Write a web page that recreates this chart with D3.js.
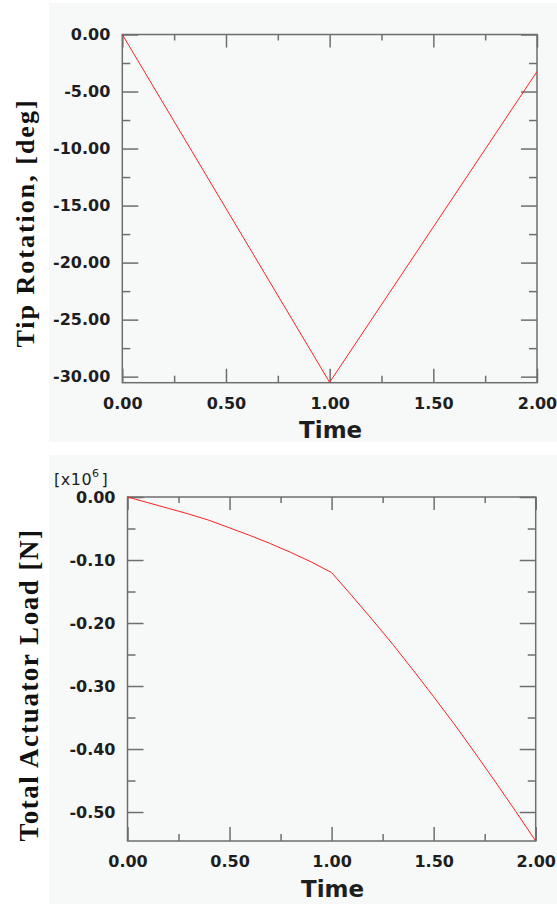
<!DOCTYPE html>
<html>
<head>
<meta charset="utf-8">
<script src="https://cdn.jsdelivr.net/npm/d3@7"></script>
<style>
  html, body { margin: 0; padding: 0; background: #ffffff; }
  svg { display: block; }
</style>
</head>
<body>
<svg id="chart" width="557" height="904"></svg>
<script>
// ---- data ----
const rotTime = [0, 1, 2];
const rotValues = [0, -30.5, -3.25];

const loadTime = [0, 0.1, 0.2, 0.3, 0.4, 0.5, 0.6, 0.7, 0.8, 0.9, 1.0,
                  1.1, 1.2, 1.3, 1.4, 1.5, 1.6, 1.7, 1.8, 1.9, 2.0];
const loadValues = [0, -0.009, -0.018, -0.027, -0.037, -0.049, -0.061, -0.074, -0.088, -0.103, -0.120,
                    -0.157, -0.195, -0.234, -0.275, -0.317, -0.360, -0.405, -0.451, -0.498, -0.546];

const timeTicks = [0, 0.5, 1, 1.5, 2];
const timeMinorTicks = [0.25, 0.75, 1.25, 1.75];
const rotTicks = [0, -5, -10, -15, -20, -25, -30];
const rotMinorTicks = [-2.5, -7.5, -12.5, -17.5, -22.5, -27.5];
const loadTicks = [0, -0.1, -0.2, -0.3, -0.4, -0.5];
const loadMinorTicks = [-0.05, -0.15, -0.25, -0.35, -0.45];

const rotTitle = "Tip Rotation, [deg]";
const loadTitle = "Total Actuator Load [N]";
const xTitle = "Time";

// ---- drawing ----
const svg = d3.select("#chart");
const fmt = d => d.toFixed(2).replace("-0.00", "0.00");
const axisColor = "#6e6e6e";
const tickFont = "DejaVu Sans, sans-serif";

function panel(cfg) {
  const g = svg.append("g");
  g.append("rect")
    .attr("x", cfg.bg[0]).attr("y", cfg.bg[1])
    .attr("width", cfg.bg[2]).attr("height", cfg.bg[3])
    .attr("fill", "#f7f9f9");

  const x = d3.scaleLinear().domain([0, 2]).range([cfg.left, cfg.right]);
  const y = d3.scaleLinear().domain(cfg.yDomain).range([cfg.bottom, cfg.top]);

  function styleAxis(sel, showText) {
    sel.select(".domain").remove();
    sel.selectAll(".tick line").attr("stroke", axisColor).attr("stroke-width", 1.5);
    sel.selectAll(".tick text")
      .attr("fill", "#1e1e1e")
      .style("font-family", tickFont)
      .style("font-weight", "bold")
      .style("font-size", "16px");
    if (!showText) sel.selectAll(".tick text").remove();
  }

  // Left axis
  g.append("g").attr("transform", `translate(${cfg.left},0)`)
    .call(d3.axisLeft(y).tickValues(cfg.yTicks).tickFormat(fmt).tickSize(-16).tickPadding(12))
    .call(s => styleAxis(s, true));
  g.append("g").attr("transform", `translate(${cfg.left},0)`)
    .call(d3.axisLeft(y).tickValues(cfg.yMinor).tickSize(-8))
    .call(s => styleAxis(s, false));
  // Right axis
  g.append("g").attr("transform", `translate(${cfg.right},0)`)
    .call(d3.axisRight(y).tickValues(cfg.yTicks).tickSize(-16))
    .call(s => styleAxis(s, false));
  g.append("g").attr("transform", `translate(${cfg.right},0)`)
    .call(d3.axisRight(y).tickValues(cfg.yMinor).tickSize(-8))
    .call(s => styleAxis(s, false));
  // Bottom axis
  g.append("g").attr("transform", `translate(0,${cfg.bottom})`)
    .call(d3.axisBottom(x).tickValues(timeTicks).tickFormat(fmt).tickSize(-14).tickPadding(15))
    .call(s => styleAxis(s, true));
  g.append("g").attr("transform", `translate(0,${cfg.bottom})`)
    .call(d3.axisBottom(x).tickValues(timeMinorTicks).tickSize(-7))
    .call(s => styleAxis(s, false));
  // Top axis
  g.append("g").attr("transform", `translate(0,${cfg.top})`)
    .call(d3.axisTop(x).tickValues(timeTicks).tickSize(-13))
    .call(s => styleAxis(s, false));
  g.append("g").attr("transform", `translate(0,${cfg.top})`)
    .call(d3.axisTop(x).tickValues(timeMinorTicks).tickSize(-6))
    .call(s => styleAxis(s, false));

  // frame
  g.append("rect")
    .attr("x", cfg.left).attr("y", cfg.top)
    .attr("width", cfg.right - cfg.left).attr("height", cfg.bottom - cfg.top)
    .attr("fill", "none").attr("stroke", axisColor).attr("stroke-width", 1.5);

  // line
  const pts = cfg.xs.map((t, i) => [t, cfg.ys[i]]);
  g.append("path")
    .datum(pts)
    .attr("fill", "none")
    .attr("stroke", "#ff2020")
    .attr("stroke-width", 1)
    .attr("d", d3.line().x(d => x(d[0])).y(d => y(d[1])));

  // x title
  g.append("text")
    .attr("x", (cfg.left + cfg.right) / 2 + 1)
    .attr("y", cfg.bottom + 55.5)
    .attr("text-anchor", "middle")
    .attr("fill", "#1e1e1e")
    .style("font-family", tickFont)
    .style("font-weight", "bold")
    .style("font-size", "23px")
    .text(xTitle);

  // y title
  g.append("text")
    .attr("transform", `translate(${cfg.titleX},${cfg.titleY}) rotate(-90)`)
    .attr("text-anchor", "middle")
    .attr("fill", "#111")
    .style("font-family", "Liberation Serif, Times New Roman, serif")
    .style("font-weight", "bold")
    .style("font-size", cfg.titleSize + "px")
    .style("letter-spacing", cfg.titleSpacing + "px")
    .text(cfg.title);

  return { g, x, y };
}

panel({
  bg: [49, 3, 508, 439],
  left: 122.3, right: 537, top: 34.5, bottom: 382.7,
  yDomain: [-30.53, 0],
  yTicks: rotTicks, yMinor: rotMinorTicks,
  xs: rotTime, ys: rotValues,
  title: rotTitle, titleX: 34, titleY: 223, titleSize: 26, titleSpacing: 2
});

const p2 = panel({
  bg: [49, 455, 508, 449],
  left: 127.5, right: 535.7, top: 497, bottom: 841,
  yDomain: [-0.546, 0],
  yTicks: loadTicks, yMinor: loadMinorTicks,
  xs: loadTime, ys: loadValues,
  title: loadTitle, titleX: 38, titleY: 685, titleSize: 27, titleSpacing: 1.5
});

// multiplier label
const mult = p2.g.append("text")
  .attr("x", 54).attr("y", 485)
  .attr("fill", "#1e1e1e")
  .style("font-family", tickFont)
  .style("font-size", "16px")
  .style("letter-spacing", "0.5px");
mult.append("tspan").text("[x10");
mult.append("tspan").attr("dy", -8).style("font-size", "11px").text("6");
mult.append("tspan").attr("dy", 8).attr("dx", 2).text("]");
</script>
</body>
</html>
